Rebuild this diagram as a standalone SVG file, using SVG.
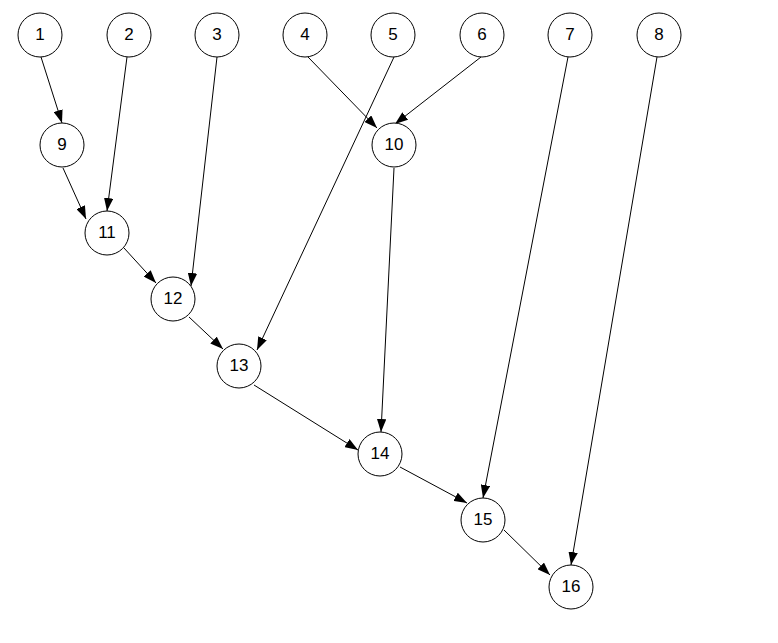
<svg xmlns="http://www.w3.org/2000/svg" width="778" height="643" viewBox="0 0 778 643">
<style>
.n circle{fill:#fff;stroke:#000;stroke-width:1}
.n text{font-family:"Liberation Sans",Arial,sans-serif;font-size:17px;text-anchor:middle;fill:#000}
.e line{stroke:#000;stroke-width:1;marker-end:url(#a)}
</style>
<defs>
<marker id="a" markerUnits="userSpaceOnUse" markerWidth="13" markerHeight="9.4" refX="13" refY="4.7" orient="auto" viewBox="0 0 13 9.4">
<path d="M0,0 L13,4.7 L0,9.4 z" fill="#000"/>
</marker>
</defs>
<rect width="778" height="643" fill="#fff"/>
<g id="edges" class="e">
<line x1="41" y1="57" x2="62" y2="123"/>
<line x1="127" y1="57" x2="107" y2="211"/>
<line x1="217" y1="57" x2="191" y2="286"/>
<line x1="308" y1="57" x2="377" y2="128"/>
<line x1="481" y1="57" x2="395" y2="124"/>
<line x1="394" y1="57" x2="257" y2="350"/>
<line x1="568" y1="57" x2="483" y2="498"/>
<line x1="657" y1="57" x2="571" y2="565"/>
<line x1="63" y1="168" x2="86" y2="219"/>
<line x1="394" y1="168" x2="381" y2="432"/>
<line x1="124" y1="248" x2="156" y2="283"/>
<line x1="189" y1="317" x2="223" y2="349"/>
<line x1="254" y1="385" x2="358" y2="450"/>
<line x1="400" y1="467" x2="467" y2="503"/>
<line x1="504" y1="530" x2="550" y2="575"/>
</g>
<g id="n1" class="n"><circle cx="40" cy="35" r="22"/><text x="40" y="40">1</text></g>
<g id="n2" class="n"><circle cx="129" cy="35" r="22"/><text x="129" y="40">2</text></g>
<g id="n3" class="n"><circle cx="217" cy="35" r="22"/><text x="217" y="40">3</text></g>
<g id="n4" class="n"><circle cx="305" cy="35" r="22"/><text x="305" y="40">4</text></g>
<g id="n5" class="n"><circle cx="393" cy="35" r="22"/><text x="393" y="40">5</text></g>
<g id="n6" class="n"><circle cx="482" cy="35" r="22"/><text x="482" y="40">6</text></g>
<g id="n7" class="n"><circle cx="570" cy="35" r="22"/><text x="570" y="40">7</text></g>
<g id="n8" class="n"><circle cx="659" cy="35" r="22"/><text x="659" y="40">8</text></g>
<g id="n9" class="n"><circle cx="62" cy="145" r="22"/><text x="62" y="150">9</text></g>
<g id="n10" class="n"><circle cx="394" cy="145" r="22"/><text x="394" y="150">10</text></g>
<g id="n11" class="n"><circle cx="107" cy="233" r="22"/><text x="107" y="238">11</text></g>
<g id="n12" class="n"><circle cx="173" cy="299" r="22"/><text x="173" y="304">12</text></g>
<g id="n13" class="n"><circle cx="239" cy="366" r="22"/><text x="239" y="371">13</text></g>
<g id="n14" class="n"><circle cx="380" cy="454" r="22"/><text x="380" y="459">14</text></g>
<g id="n15" class="n"><circle cx="483" cy="520" r="22"/><text x="483" y="525">15</text></g>
<g id="n16" class="n"><circle cx="571" cy="587" r="22"/><text x="571" y="592">16</text></g>
</svg>
